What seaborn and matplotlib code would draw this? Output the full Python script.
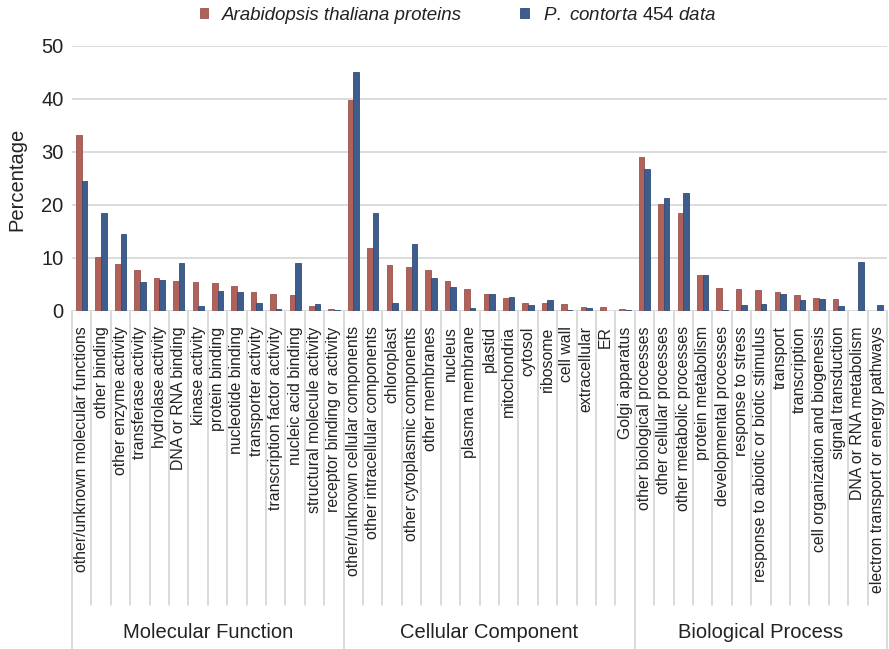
import matplotlib
matplotlib.use("Agg")
import matplotlib.pyplot as plt
import matplotlib.transforms as mtransforms
from matplotlib.patches import Patch
import pandas as pd
import seaborn as sns

# GO categories per ontology
groups = ["Molecular Function", "Cellular Component", "Biological Process"]

mf_terms = [
    "other/unknown molecular functions", "other binding", "other enzyme activity",
    "transferase activity", "hydrolase activity", "DNA or RNA binding",
    "kinase activity", "protein binding", "nucleotide binding",
    "transporter activity", "transcription factor activity",
    "nucleic acid binding", "structural molecule activity",
    "receptor binding or activity",
]
cc_terms = [
    "other/unknown cellular components", "other intracellular components",
    "chloroplast", "other cytoplasmic components", "other membranes", "nucleus",
    "plasma membrane", "plastid", "mitochondria", "cytosol", "ribosome",
    "cell wall", "extracellular", "ER", "Golgi apparatus",
]
bp_terms = [
    "other biological processes", "other cellular processes",
    "other metabolic processes", "protein metabolism", "developmental processes",
    "response to stress", "response to abiotic or biotic stimulus", "transport",
    "transcription", "cell organization and biogenesis", "signal transduction",
    "DNA or RNA metabolism", "electron transport or energy pathways",
]

# Percentages: Arabidopsis thaliana proteome
mf_arabidopsis = [33.3, 10.2, 8.8, 7.7, 6.3, 5.6, 5.4, 5.2, 4.7, 3.5, 3.2, 3.1, 0.95, 0.4]
cc_arabidopsis = [39.9, 11.8, 8.7, 8.3, 7.8, 5.6, 4.2, 3.3, 2.5, 1.6, 1.5, 1.3, 0.8, 0.7, 0.4]
bp_arabidopsis = [29.0, 20.1, 18.4, 6.75, 4.35, 4.2, 4.0, 3.6, 3.0, 2.4, 2.3, 0.0, 0.0]

# Percentages: P. contorta 454 transcripts
mf_contorta = [24.6, 18.4, 14.5, 5.5, 5.8, 9.0, 0.95, 3.8, 3.6, 1.5, 0.4, 9.1, 1.4, 0.25]
cc_contorta = [45.1, 18.4, 1.5, 12.6, 6.3, 4.5, 0.5, 3.3, 2.7, 1.2, 2.0, 0.1, 0.5, 0.05, 0.25]
bp_contorta = [26.8, 21.3, 22.3, 6.75, 0.25, 1.1, 1.4, 3.3, 2.0, 2.3, 0.95, 9.3, 1.1]

series = ["Arabidopsis thaliana proteins", "P. contorta 454 data"]
series_labels = ["Arabidopsis thaliana proteins",
                 r"$\mathit{P.\ contorta}$ 454 $\mathit{data}$"]
colors = ["#b0625a", "#3e5c8c"]
edge_colors = ["#9a534c", "#324d78"]

terms = mf_terms + cc_terms + bp_terms
group_sizes = [len(mf_terms), len(cc_terms), len(bp_terms)]
df = pd.DataFrame({
    "category": terms * 2,
    "series": [series[0]] * len(terms) + [series[1]] * len(terms),
    "value": (mf_arabidopsis + cc_arabidopsis + bp_arabidopsis
              + mf_contorta + cc_contorta + bp_contorta),
})

sns.set_theme(style="white")
plt.rcParams["font.family"] = ["Liberation Sans", "DejaVu Sans"]
plt.rcParams["mathtext.fontset"] = "custom"
plt.rcParams["mathtext.rm"] = "Liberation Sans"
plt.rcParams["mathtext.it"] = "Liberation Sans:italic"

W, H = 889, 649
fig = plt.figure(figsize=(W / 100, H / 100), dpi=100)
left, right, top, bottom = 72, 887, 46, 311
ax = fig.add_axes([left / W, 1 - bottom / H, (right - left) / W, (bottom - top) / H])

sns.barplot(data=df, x="category", y="value", hue="series", order=terms,
            hue_order=series, palette=colors, saturation=1, width=0.58,
            gap=0, ax=ax, legend=False)
for cont, ec in zip(ax.containers, edge_colors):
    for bar in cont:
        bar.set_edgecolor(ec)
        bar.set_linewidth(0.6)

n = len(terms)
ax.set_xlim(-0.5, n - 0.5)
ax.set_ylim(0, 50)
ax.set_yticks(range(0, 51, 10))
ax.yaxis.grid(True, color="#d9d9d9", linewidth=1.3)
ax.xaxis.grid(False)
ax.set_axisbelow(True)
for sp in ax.spines.values():
    sp.set_visible(False)

ax.set_xlabel("")
ax.set_ylabel("")
ax.set_xticks(range(n))
ax.set_xticklabels(terms, rotation=90, fontsize=11.4, color="#222222",
                   ha="center", va="top")
ax.tick_params(axis="x", length=0, pad=11)
ax.tick_params(axis="y", length=0, pad=6, labelsize=14.5, labelcolor="#222222")

fig.text(17 / W, 1 - 179 / H, "Percentage", rotation=90, ha="center",
         va="center", fontsize=14.5, color="#222222")

# Category separators and ontology group brackets below the axis
trans = mtransforms.blended_transform_factory(ax.transData, fig.transFigure)
y_axis = 1 - bottom / H
y_cat_end = 1 - 605 / H
group_edges = [-0.5]
for s in group_sizes:
    group_edges.append(group_edges[-1] + s)
for k in range(n + 1):
    xb = k - 0.5
    y_end = 0.0 if xb in group_edges else y_cat_end
    ax.plot([xb, xb], [y_axis, y_end], transform=trans, color="#d4d4d4",
            linewidth=1.2, clip_on=False, zorder=0)
for g, a, b in zip(groups, group_edges[:-1], group_edges[1:]):
    ax.text((a + b) / 2, 1 - 633 / H, g, transform=trans, ha="center",
            va="center", fontsize=14.5, color="#222222")

handles = [Patch(facecolor=c, edgecolor=ec, linewidth=0.6)
           for c, ec in zip(colors, edge_colors)]
leg = fig.legend(handles, series_labels, loc="center",
                 bbox_to_anchor=(458 / W, 1 - 15 / H), ncol=2, frameon=False,
                 fontsize=13.5, handlelength=0.45, handleheight=0.45,
                 handletextpad=0.75, columnspacing=3.1, borderaxespad=0)
leg.get_texts()[0].set_fontstyle("italic")
for t in leg.get_texts():
    t.set_color("#222222")

fig.savefig("out.png", dpi=100)
